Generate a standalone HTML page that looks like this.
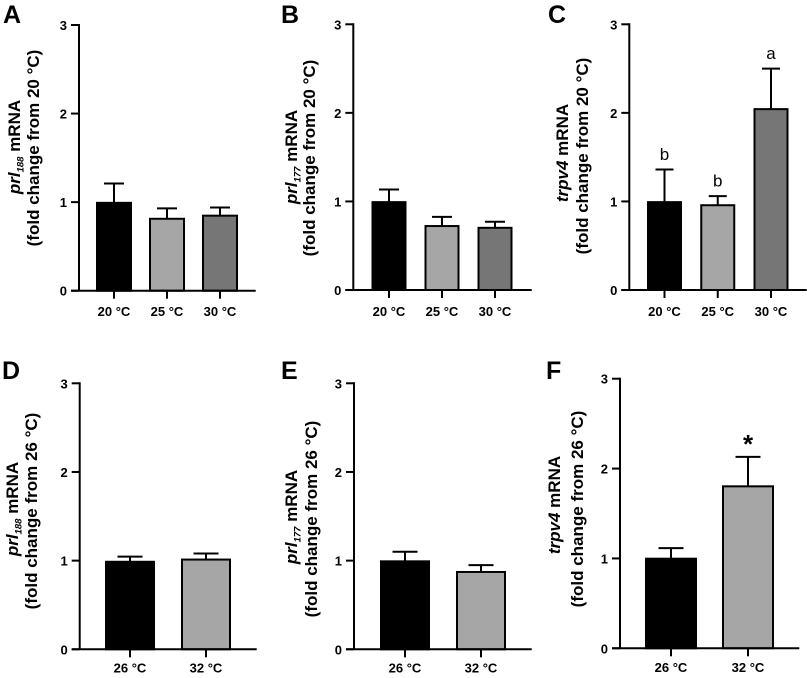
<!DOCTYPE html>
<html lang="en">
<head>
<meta charset="utf-8">
<title>Fold change in mRNA by temperature</title>
<style>
html,body{margin:0;padding:0;background:#fff;width:807px;height:678px;overflow:hidden}
svg{display:block;font-family:"Liberation Sans",Arial,sans-serif}
</style>
</head>
<body>
<svg id="figure" xmlns="http://www.w3.org/2000/svg" width="807" height="678" viewBox="0 0 807 678"></svg>
<script>
// ---- Data ----
const yTicks = [0, 1, 2, 3];

const categoriesA = ['20 °C', '25 °C', '30 °C'];
const meansA = [1.0, 0.82, 0.855];
const errorTopsA = [1.21, 0.93, 0.94];
const marksA = ['', '', ''];

const categoriesB = ['20 °C', '25 °C', '30 °C'];
const meansB = [1.0, 0.73, 0.71];
const errorTopsB = [1.135, 0.825, 0.77];
const marksB = ['', '', ''];

const categoriesC = ['20 °C', '25 °C', '30 °C'];
const meansC = [1.0, 0.965, 2.05];
const errorTopsC = [1.36, 1.06, 2.5];
const marksC = ['b', 'b', 'a'];

const categoriesD = ['26 °C', '32 °C'];
const meansD = [0.995, 1.02];
const errorTopsD = [1.045, 1.08];
const marksD = ['', ''];

const categoriesE = ['26 °C', '32 °C'];
const meansE = [1.0, 0.88];
const errorTopsE = [1.1, 0.95];
const marksE = ['', ''];

const categoriesF = ['26 °C', '32 °C'];
const meansF = [1.005, 1.81];
const errorTopsF = [1.115, 2.13];
const marksF = ['', '*'];

// ---- Panel layout ----
const fills = ['#000000', '#a6a6a6', '#767676'];
const panels = [
  {id:'a', letter:'A', lx:3, ly:23, cats:categoriesA, means:meansA, tops:errorTopsA, marks:marksA,
   ax:79, xEnd:255.7, y0:290.7, y3:25, first:114, step:53, barW:36, cap:10, tickY:316,
   gene:'prl', sub:'188', ref:'20 °C', t1x:20, t1y:147, t2x:39, t2y:148},
  {id:'b', letter:'B', lx:281, ly:23, cats:categoriesB, means:meansB, tops:errorTopsB, marks:marksB,
   ax:353.3, xEnd:531.7, y0:290, y3:24.3, first:389, step:53, barW:35, cap:10, tickY:316,
   gene:'prl', sub:'177', ref:'20 °C', t1x:297, t1y:157, t2x:315, t2y:158},
  {id:'c', letter:'C', lx:548, ly:23, cats:categoriesC, means:meansC, tops:errorTopsC, marks:marksC,
   ax:629.3, xEnd:806.7, y0:290, y3:24.3, first:664.5, step:53.25, barW:35, cap:9, tickY:316,
   gene:'trpv4', sub:'', ref:'20 °C', t1x:568, t1y:153, t2x:588, t2y:156},
  {id:'d', letter:'D', lx:2, ly:379, cats:categoriesD, means:meansD, tops:errorTopsD, marks:marksD,
   ax:79.7, xEnd:256.7, y0:649.3, y3:383.3, first:130, step:76, barW:50, cap:12.5, tickY:672.7,
   gene:'prl', sub:'188', ref:'26 °C', t1x:18, t1y:509, t2x:37, t2y:511},
  {id:'e', letter:'E', lx:281, ly:379, cats:categoriesE, means:meansE, tops:errorTopsE, marks:marksE,
   ax:354, xEnd:531.7, y0:649.3, y3:383.3, first:405, step:76, barW:50, cap:12.5, tickY:672.7,
   gene:'prl', sub:'177', ref:'26 °C', t1x:297, t1y:517, t2x:317, t2y:519},
  {id:'f', letter:'F', lx:546, ly:379, cats:categoriesF, means:meansF, tops:errorTopsF, marks:marksF,
   ax:620, xEnd:799.3, y0:648.3, y3:378.7, first:671, step:77, barW:52, cap:12.5, tickY:672,
   gene:'trpv4', sub:'', ref:'26 °C', t1x:560, t1y:505, t2x:583, t2y:509}
];

const NS = 'http://www.w3.org/2000/svg';
const root = document.getElementById('figure');
const STROKE = 2;
const BAR_INSET = 0.7;

function make(parent, tag, props, content) {
  const node = document.createElementNS(NS, tag);
  for (const k in props) node.setAttribute(k, props[k]);
  if (content !== undefined) node.textContent = content;
  parent.appendChild(node);
  return node;
}

panels.forEach(function (p) {
  const yScale = function (v) { return p.y0 - (v / 3) * (p.y0 - p.y3); };
  const xScale = function (i) { return p.first + i * p.step; };

  const g = make(root, 'g', {});
  
  

  const letter = make(g, 'text', {x: p.lx, y: p.ly, 'font-size': 25, 'font-weight': 'bold', fill: '#000'}, p.letter);
  
  

  // Bars, error bars and significance marks
  p.means.forEach(function (v, i) {
    const cx = xScale(i);
    const err = make(g, 'path', {
      d: 'M' + cx + ' ' + yScale(v) + 'V' + yScale(p.tops[i]) + 'M' + (cx - p.cap) + ' ' + yScale(p.tops[i]) + 'H' + (cx + p.cap),
      stroke: '#000', 'stroke-width': STROKE, fill: 'none'
    });
    
    

    const bar = make(g, 'rect', {
      x: cx - (p.barW - STROKE) / 2, y: yScale(v) + BAR_INSET,
      width: p.barW - STROKE, height: p.y0 - yScale(v) - BAR_INSET,
      fill: fills[i], stroke: '#000', 'stroke-width': STROKE
    });
    
    

    if (p.marks[i]) {
      const star = p.marks[i] === '*';
      const mark = make(g, 'text', {
        x: cx, y: yScale(p.tops[i]) - (star ? 4 : 9.5), 'text-anchor': 'middle',
        'font-size': star ? 26 : 17, 'font-weight': star ? 'bold' : 'normal', fill: '#000'
      }, p.marks[i]);
      
      
    }

    const tick = make(g, 'line', {x1: cx, x2: cx, y1: p.y0, y2: p.y0 + 8, stroke: '#000', 'stroke-width': STROKE});
    
    

    const label = make(g, 'text', {
      x: cx, y: p.tickY, 'text-anchor': 'middle', 'font-size': 13, 'font-weight': 'bold', fill: '#000'
    }, p.cats[i]);
    
    
  });

  // Axes
  const yAxis = make(g, 'line', {x1: p.ax, x2: p.ax, y1: p.y3 - STROKE / 2, y2: p.y0, stroke: '#000', 'stroke-width': STROKE});
  
  

  const xAxis = make(g, 'line', {x1: p.ax - 8, x2: p.xEnd, y1: p.y0, y2: p.y0, stroke: '#000', 'stroke-width': STROKE});
  
  

  yTicks.forEach(function (t) {
    const tick = make(g, 'line', {x1: p.ax - 8, x2: p.ax, y1: yScale(t), y2: yScale(t), stroke: '#000', 'stroke-width': STROKE});
    
    

    const label = make(g, 'text', {
      x: p.ax - 12, y: yScale(t) + 5, 'text-anchor': 'end', 'font-size': 13, 'font-weight': 'bold', fill: '#000'
    }, t);
    
    
  });

  // Y-axis title, two rotated lines
  const line1 = make(g, 'text', {
    transform: 'translate(' + p.t1x + ' ' + p.t1y + ') rotate(-90)', 'text-anchor': 'middle',
    'font-size': 17, 'font-weight': 'bold', fill: '#000'
  });
  
  
  make(line1, 'tspan', {'font-style': 'italic'}, p.gene);
  if (p.sub) {
    make(line1, 'tspan', {'font-style': 'italic', 'font-size': 9.5, dy: 3.5}, p.sub);
    make(line1, 'tspan', {dy: -3.5}, ' mRNA');
  } else {
    make(line1, 'tspan', {}, ' mRNA');
  }

  const line2 = make(g, 'text', {
    transform: 'translate(' + p.t2x + ' ' + p.t2y + ') rotate(-90)', 'text-anchor': 'middle',
    'font-size': 17, 'font-weight': 'bold', fill: '#000'
  }, '(fold change from ' + p.ref + ')');
  
  
});
</script>
</body>
</html>
